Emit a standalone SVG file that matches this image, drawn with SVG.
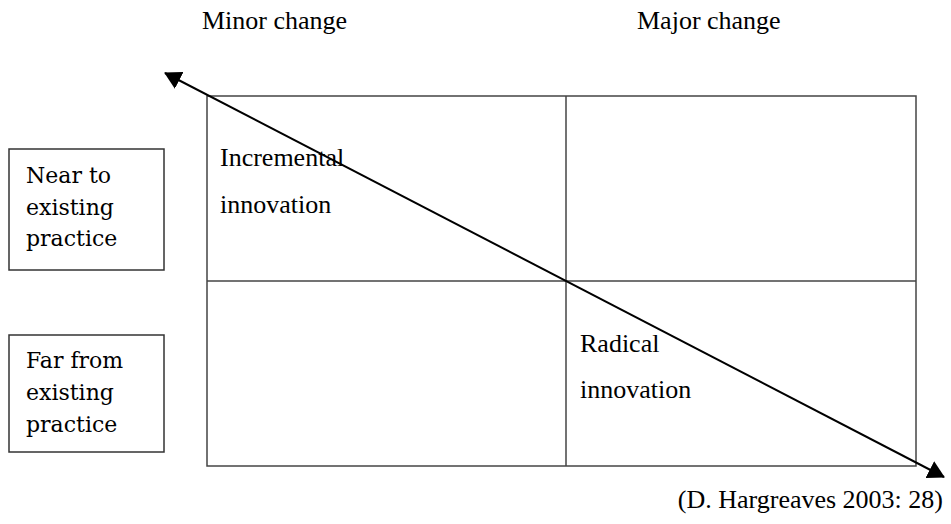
<svg xmlns="http://www.w3.org/2000/svg" width="951" height="524" viewBox="0 0 951 524">
<style>
.tnr{font-family:"Liberation Serif","Times New Roman",serif;font-size:26px;fill:#000}
.cam{font-family:"DejaVu Serif",Cambria,serif;font-size:22px;fill:#000}
.grid{fill:none;stroke:#444;stroke-width:1.5}
.box{fill:#fff;stroke:#333;stroke-width:1.5}
.conn{stroke:#000;stroke-width:2;fill:none}
</style>
<defs>
<marker id="ah" markerUnits="userSpaceOnUse" markerWidth="17" markerHeight="19" viewBox="0 0 17 19" refX="16" refY="9.5" orient="auto-start-reverse">
<path d="M0,0 L17,9.5 L0,19 z" fill="#000"/>
</marker>
</defs>
<rect width="951" height="524" fill="#fff"/>
<g id="header-minor"><text class="tnr" x="202" y="29">Minor change</text></g>
<g id="header-major"><text class="tnr" x="637" y="29">Major change</text></g>
<g id="grid">
<rect class="grid" x="207" y="96" width="709" height="370"/>
<line class="grid" x1="566" y1="96" x2="566" y2="466"/>
<line class="grid" x1="207" y1="281" x2="916" y2="281"/>
</g>
<g id="near-box">
<rect class="box" x="9" y="149" width="155" height="121"/>
<text class="cam" x="26" y="183">Near to</text>
<text class="cam" x="26" y="215">existing</text>
<text class="cam" x="26" y="246">practice</text>
</g>
<g id="far-box">
<rect class="box" x="9" y="335" width="155" height="117"/>
<text class="cam" x="26" y="368">Far from</text>
<text class="cam" x="26" y="400">existing</text>
<text class="cam" x="26" y="432">practice</text>
</g>
<g id="incremental">
<text class="tnr" x="220" y="166">Incremental</text>
<text class="tnr" x="220" y="213">innovation</text>
</g>
<g id="radical">
<text class="tnr" x="580" y="352">Radical</text>
<text class="tnr" x="580" y="398">innovation</text>
</g>
<g id="connectors">
<line class="conn" x1="165" y1="73" x2="944" y2="477" marker-start="url(#ah)" marker-end="url(#ah)"/>
</g>
<g id="citation"><text class="tnr" x="943" y="508" text-anchor="end">(D. Hargreaves 2003: 28)</text></g>
</svg>
